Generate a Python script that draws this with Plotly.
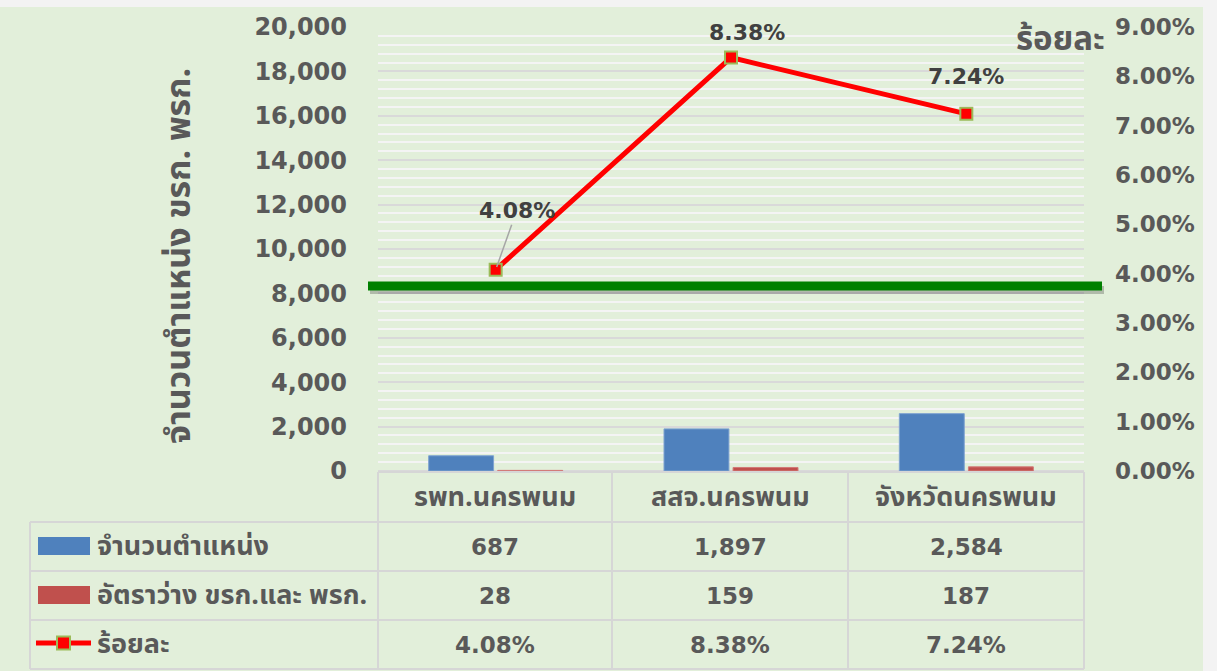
import plotly.graph_objects as go

# ---------------- data ----------------
categories = ["รพท.นครพนม", "สสจ.นครพนม", "จังหวัดนครพนม"]
positions = [687, 1897, 2584]          # จำนวนตำแหน่ง
vacancies = [28, 159, 187]             # อัตราว่าง ขรก.และ พรก.
percent = [4.08, 8.38, 7.24]           # ร้อยละ
target_pct = 3.75                      # green reference line (right axis)
series_names = ["จำนวนตำแหน่ง", "อัตราว่าง ขรก.และ พรก.", "ร้อยละ"]
left_ticks = list(range(0, 20001, 2000))
right_ticks = [i * 1.0 for i in range(0, 10)]

# ---------------- geometry ----------------
W, H = 1217, 671
L, R, T, B = 378, 1084, 27, 471   # plot-area pixel box
def px(x):
    return (x - L) / (R - L)
def py(y):
    return (B - y) / (B - T)

NUMF = "'DejaVu Sans', 'Noto Sans', sans-serif"
THAIF = "'Noto Sans Thai', Kanit, 'Noto Sans', sans-serif"
TXT = "#595959"
DARK = "#404040"
BLUE = "#4F81BD"
RED_BAR = "#C0504D"

fig = go.Figure()
fig.add_trace(go.Bar(x=categories, y=positions, name=series_names[0],
                     marker=dict(color=BLUE, line=dict(color="#7FA3D0", width=1))))
fig.add_trace(go.Bar(x=categories, y=vacancies, name=series_names[1],
                     marker=dict(color=RED_BAR, line=dict(color="#D27A78", width=1))))
fig.add_trace(go.Scatter(x=categories, y=percent, name=series_names[2], yaxis="y2",
                         mode="lines+markers",
                         line=dict(color="#FF0000", width=5),
                         marker=dict(symbol="square", size=12, color="#FF0000",
                                     line=dict(color="#9BBB59", width=2))))

shapes = []
annotations = []

# green background panel
shapes.append(dict(type="rect", xref="paper", yref="paper", layer="below",
                   x0=px(0), x1=px(1203), y0=py(H), y1=py(7),
                   fillcolor="#E2EFDA", line=dict(width=0)))

# green reference line with shadow
shapes.append(dict(type="line", xref="paper", yref="y2", layer="above",
                   x0=px(370), x1=px(1104), y0=target_pct - 0.08, y1=target_pct - 0.08,
                   line=dict(color="rgba(0,0,0,0.22)", width=8)))
shapes.append(dict(type="line", xref="paper", yref="y2", layer="above",
                   x0=px(368), x1=px(1102), y0=target_pct, y1=target_pct,
                   line=dict(color="#008000", width=9)))

# data table grid
GRID = "#D6D6D6"
col_x = [378, 612, 848, 1084]
row_y = [472, 522, 571, 620, 669]
left_x = 30
shapes.append(dict(type="line", xref="paper", yref="paper",
                   x0=px(col_x[0]), x1=px(col_x[-1]), y0=py(row_y[0]), y1=py(row_y[0]),
                   line=dict(color=GRID, width=2)))
for yy in row_y[1:]:
    shapes.append(dict(type="line", xref="paper", yref="paper",
                       x0=px(left_x), x1=px(col_x[-1]), y0=py(yy), y1=py(yy),
                       line=dict(color=GRID, width=2)))
for xx in col_x:
    shapes.append(dict(type="line", xref="paper", yref="paper",
                       x0=px(xx), x1=px(xx), y0=py(row_y[0]), y1=py(row_y[-1]),
                       line=dict(color=GRID, width=2)))
shapes.append(dict(type="line", xref="paper", yref="paper",
                   x0=px(left_x), x1=px(left_x), y0=py(row_y[1]), y1=py(row_y[-1]),
                   line=dict(color=GRID, width=2)))

# legend keys in table
shapes.append(dict(type="rect", xref="paper", yref="paper",
                   x0=px(38), x1=px(90), y0=py(555), y1=py(537),
                   fillcolor=BLUE, line=dict(width=0)))
shapes.append(dict(type="rect", xref="paper", yref="paper",
                   x0=px(38), x1=px(90), y0=py(604), y1=py(586),
                   fillcolor=RED_BAR, line=dict(width=0)))
shapes.append(dict(type="line", xref="paper", yref="paper",
                   x0=px(36), x1=px(91), y0=py(643), y1=py(643),
                   line=dict(color="#FF0000", width=5)))
shapes.append(dict(type="rect", xref="paper", yref="paper",
                   x0=px(57), x1=px(70), y0=py(649.5), y1=py(636.5),
                   fillcolor="#FF0000", line=dict(color="#9BBB59", width=2)))

def add_text(x, y, text, family, size, xanchor="center"):
    annotations.append(dict(xref="paper", yref="paper", x=px(x), y=py(y), text=text,
                            showarrow=False, xanchor=xanchor, yanchor="middle",
                            font=dict(family=family, size=size, color=TXT)))

row_centers = [(row_y[i] + row_y[i + 1]) / 2 for i in range(4)]
col_centers = [(col_x[i] + col_x[i + 1]) / 2 for i in range(3)]
for c, cat in enumerate(categories):
    add_text(col_centers[c], row_centers[0] + 1, f"<b>{cat}</b>", THAIF, 27)
    add_text(col_centers[c], row_centers[1], f"<b>{positions[c]:,}</b>", NUMF, 23)
    add_text(col_centers[c], row_centers[2], f"<b>{vacancies[c]:,}</b>", NUMF, 23)
    add_text(col_centers[c], row_centers[3], f"<b>{percent[c]:.2f}%</b>", NUMF, 23)
for r, name in enumerate(series_names):
    add_text(95, row_centers[r + 1], f"<b>{name}</b>", THAIF, 27, xanchor="left")

# data labels of the percentage line
label_offsets = [(21, -59), (16, -25), (0, -37)]
for c in range(3):
    dx, dy = label_offsets[c]
    common = dict(x=categories[c], y=percent[c], xref="x", yref="y2",
                  text=f"<b>{percent[c]:.2f}%</b>",
                  font=dict(family=NUMF, size=22, color=DARK))
    if c == 0:
        annotations.append(dict(**common, showarrow=True, arrowhead=0, arrowwidth=1.5,
                                arrowcolor="#A6A6A6", ax=dx, ay=dy, standoff=3))
    else:
        annotations.append(dict(**common, showarrow=False, xshift=dx, yshift=-dy,
                                xanchor="center", yanchor="middle"))

# axis titles
annotations.append(dict(xref="paper", yref="paper", x=px(180), y=py(256),
                        xanchor="center", yanchor="middle",
                        text="<b>จำนวนตำแหน่ง ขรก. พรก.</b>", textangle=-90,
                        showarrow=False, font=dict(family=THAIF, size=34, color=TXT)))
annotations.append(dict(xref="paper", yref="paper", x=px(1060), y=py(40),
                        xanchor="center", yanchor="middle",
                        text="<b>ร้อยละ</b>", showarrow=False,
                        font=dict(family=THAIF, size=33, color=TXT)))

fig.update_layout(
    width=W, height=H,
    margin=dict(l=L, r=W - R, t=T, b=H - B, pad=0),
    paper_bgcolor="#F3F3F3",
    plot_bgcolor="rgba(0,0,0,0)",
    barmode="group", bargap=0.413, bargroupgap=0.06,
    showlegend=False,
    font=dict(family=NUMF, color=TXT),
    xaxis=dict(showticklabels=False, showgrid=False, zeroline=False, showline=False,
               ticks=""),
    yaxis=dict(range=[0, 20000], tickvals=left_ticks,
               ticktext=[f"<b>{v:,}</b>" for v in left_ticks],
               tickfont=dict(family=NUMF, size=24, color=TXT),
               showgrid=True, gridcolor="#D9D9D9", gridwidth=1.5,
               minor=dict(dtick=400, showgrid=True, gridcolor="#F4F4F4", gridwidth=1.5),
               zeroline=True, zerolinecolor="#D9D9D9", zerolinewidth=1.5,
               showline=False, ticks="", ticklabelstandoff=30),
    yaxis2=dict(range=[0, 9], overlaying="y", side="right", tickvals=right_ticks,
                ticktext=[f"<b>{v:.2f}%</b>" for v in right_ticks],
                tickfont=dict(family=NUMF, size=23, color=TXT),
                showgrid=False, zeroline=False, showline=False, ticks="",
                ticklabelstandoff=30),
    shapes=shapes,
    annotations=annotations,
)

fig.write_html("out.html", config={"displayModeBar": False},
               post_script="document.body.style.margin='0';document.body.style.overflow='hidden';")
